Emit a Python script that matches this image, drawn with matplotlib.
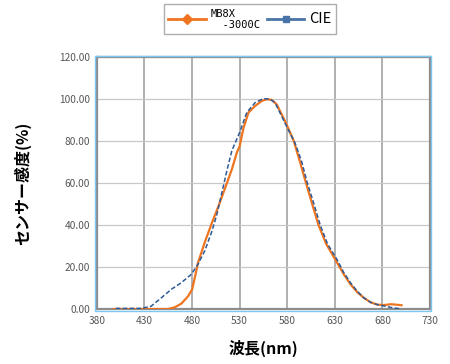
import numpy as np
import matplotlib.pyplot as plt
from matplotlib.lines import Line2D
from matplotlib.patches import Rectangle

plt.rcParams['font.family'] = ['Noto Sans CJK JP', 'DejaVu Sans']

# MB8X-3000C sensor response
mb_nm = [398, 430, 454.7, 461.8, 468.9, 475.9, 480.2, 483, 486.5, 493.6, 500.7, 507.7,
         514.8, 521.9, 527.2, 530, 534.2, 539.4, 546.3, 553.3, 558.5, 563.7, 568.9,
         574.1, 580, 587, 593.4, 599.8, 605.8, 612.9, 621, 630.5, 639.4,
         646.4, 653.5, 660.6, 667.6, 674.7, 681.8, 688.8, 694.1, 700.1]
mb_val = [0, 0, 0, 0.8, 2.6, 6.1, 9.4, 15, 22.3, 32, 40.8, 48.9,
          57.7, 66.6, 74.7, 77.5, 86.5, 93.7, 96.8, 99.2, 100, 99.7, 97.6,
          92.9, 87.3, 80, 70.2, 60, 50.8, 40, 31, 23.6, 16.6,
          11.8, 8.1, 5.3, 3.2, 2.1, 1.9, 2.3, 2.1, 1.8]

# CIE luminosity curve
cie_nm = [400, 426.5, 437, 447.7, 458.3, 468.9, 479.5, 486.5, 493.6, 500.7, 506,
          511.3, 516.6, 521.9, 530, 537.6, 546.3, 555, 562, 567.2, 574.1, 580,
          588, 595, 601.2, 607.6, 614.7, 622.4, 632.3, 639.4, 646.4, 653.5,
          660.6, 667.6, 674.7, 683.5, 690.6, 697.6]
cie_val = [0.3, 0.3, 1.3, 5.3, 9.4, 12.6, 16.6, 21.5, 27.9, 36.8, 44.8,
           55.3, 65.8, 75.5, 84.1, 93.7, 98.4, 100.3, 100, 98.4, 92, 86.5,
           79.4, 70.6, 60, 50.8, 40, 31, 23.6, 17.4, 12.6, 8.5,
           5.3, 3.2, 2.1, 1.3, 0.6, 0.2]

xticks = np.arange(380, 731, 50)
yticks = np.arange(0, 121, 20)

orange = '#ee7420'
blue = '#2e5b98'

fig = plt.figure(figsize=(4.5, 3.64), dpi=100)
ax = fig.add_axes([0.215, 0.151, 0.7406, 0.6916])

ax.plot(mb_nm, mb_val, color=orange, lw=1.6, zorder=3)
ax.plot(cie_nm, cie_val, color=blue, lw=1.1, ls=(0, (3, 1.5)), zorder=3)

ax.set_xlim(380, 730)
ax.set_ylim(0, 120)
ax.set_xticks(xticks)
ax.set_yticks(yticks)
ax.set_yticklabels(['%.2f' % v for v in yticks])
ax.tick_params(length=0, labelsize=7.3, labelcolor='#555555', pad=5)
ax.grid(axis='x', color='#9a9a9a', lw=1.1)
ax.grid(axis='y', color='#c8c8c8', lw=0.9)
for s in ax.spines.values():
    s.set_color('#8c8c8c')
    s.set_linewidth(1.6)

# light blue outer frame
fig.add_artist(Rectangle((95 / 450, 1 - 311 / 364), 336 / 450, 255 / 364,
                         transform=fig.transFigure, fill=False,
                         edgecolor='#7cc8f0', lw=1.0))

ax.set_xlabel('波長(nm)', fontsize=11.5, fontweight='bold', labelpad=10)
ax.set_ylabel('センサー感度(%)', fontsize=11.5, fontweight='bold', labelpad=20)

handles = [Line2D([], [], color=orange, lw=2, marker='D', ms=5),
           Line2D([], [], color='#4a74a8', lw=2, marker='s', ms=5)]
leg = fig.legend(handles, ['MB8X\n  -3000C', 'CIE'], ncol=2,
                 loc='upper center', bbox_to_anchor=(0.555, 1.005),
                 frameon=True, fancybox=False, edgecolor='#999999',
                 handlelength=3.0, columnspacing=0.5, handletextpad=0.4,
                 borderpad=0.35, fontsize=9)
leg.get_frame().set_linewidth(1.0)
t0, t1 = leg.get_texts()
t0.set_family('DejaVu Sans Mono')
t0.set_fontsize(7.5)
t0.set_linespacing(1.15)
t1.set_fontsize(10.5)

fig.savefig('out.png', dpi=100)
